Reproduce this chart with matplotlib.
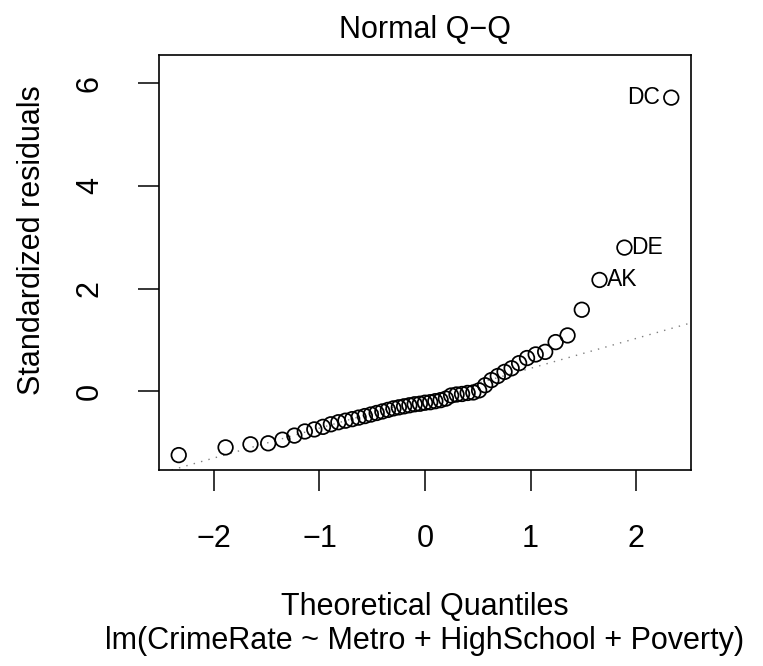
import numpy as np
import matplotlib.pyplot as plt

plt.rcParams['font.family'] = ['Liberation Sans', 'DejaVu Sans']

theo_q = [-2.334, -1.890, -1.654, -1.486, -1.351, -1.238, -1.139, -1.049, -0.967, -0.892,
          -0.821, -0.754, -0.690, -0.629, -0.570, -0.513, -0.458, -0.404, -0.351, -0.299,
          -0.248, -0.198, -0.148, -0.098, -0.049, 0.000, 0.049, 0.098, 0.148, 0.198,
          0.248, 0.299, 0.351, 0.404, 0.458, 0.513, 0.570, 0.629, 0.690, 0.754,
          0.821, 0.892, 0.967, 1.049, 1.139, 1.238, 1.351, 1.486, 1.654, 1.890, 2.334]
# sorted standardized residuals
std_resid = [-1.24, -1.09, -1.03, -1.01, -0.94, -0.86, -0.78, -0.74, -0.69, -0.64,
             -0.60, -0.57, -0.54, -0.51, -0.48, -0.45, -0.42, -0.39, -0.36, -0.33,
             -0.31, -0.29, -0.27, -0.25, -0.24, -0.22, -0.21, -0.19, -0.17, -0.14,
             -0.08, -0.06, -0.05, -0.03, -0.02, 0.02, 0.12, 0.22, 0.30, 0.38,
             0.45, 0.55, 0.65, 0.72, 0.77, 0.96, 1.09, 1.59, 2.17, 2.80, 5.72]
# labelled outliers: (index into the arrays, label, side)
outliers = [(50, "DC", "left"), (49, "DE", "right"), (48, "AK", "right")]

x_ticks = [-2, -1, 0, 1, 2]
y_ticks = [0, 2, 4, 6]

W, H = 763, 666
fig = plt.figure(figsize=(W / 100, H / 100), dpi=100)
# plot region in pixels: left 159, right 691, top 55, bottom 470
ax = fig.add_axes([159 / W, 1 - 470 / H, (691 - 159) / W, (470 - 55) / H])

x = np.array(theo_q)
y = np.array(std_resid)

ax.scatter(x, y, s=110, facecolors='none', edgecolors='black', linewidths=1.25, zorder=3)

# qqline through the quartiles
q1, q3 = np.quantile(y, [0.25, 0.75])
z = 0.6745
slope = (q3 - q1) / (2 * z)
inter = q1 + slope * z
ax.axline((0, inter), slope=slope, color='#7f7f7f', lw=1.0,
          linestyle=(0, (1, 4.5)), zorder=2)

for i, lab, side in outliers:
    if side == "left":
        ax.annotate(lab, (x[i], y[i]), xytext=(-8, 0), textcoords='offset points',
                    ha='right', va='center', fontsize=16.5)
    else:
        ax.annotate(lab, (x[i], y[i]), xytext=(5, 0), textcoords='offset points',
                    ha='left', va='center', fontsize=16.5)

ax.set_xlim(-2.521, 2.521)
ax.set_ylim(-1.53, 6.55)
ax.set_xticks(x_ticks)
ax.set_yticks(y_ticks)
ax.tick_params(axis='both', direction='out', length=15, width=1.1, labelsize=22, pad=24)
ax.tick_params(axis='y', labelrotation=90)
for lbl in ax.get_yticklabels():
    lbl.set_va('center')
for sp in ax.spines.values():
    sp.set_linewidth(1.2)

fig.text(425 / W, 1 - 30 / H, "Normal Q\u2212Q", ha='center', va='center', fontsize=22)
fig.text(425 / W, 1 - 607 / H, "Theoretical Quantiles", ha='center', va='center', fontsize=22)
fig.text(425 / W, 1 - 641 / H, "lm(CrimeRate ~ Metro + HighSchool + Poverty)",
         ha='center', va='center', fontsize=22)
fig.text(32 / W, 1 - 240 / H, "Standardized residuals", ha='center', va='center',
         rotation=90, fontsize=22)

fig.savefig("out.png", dpi=100)
